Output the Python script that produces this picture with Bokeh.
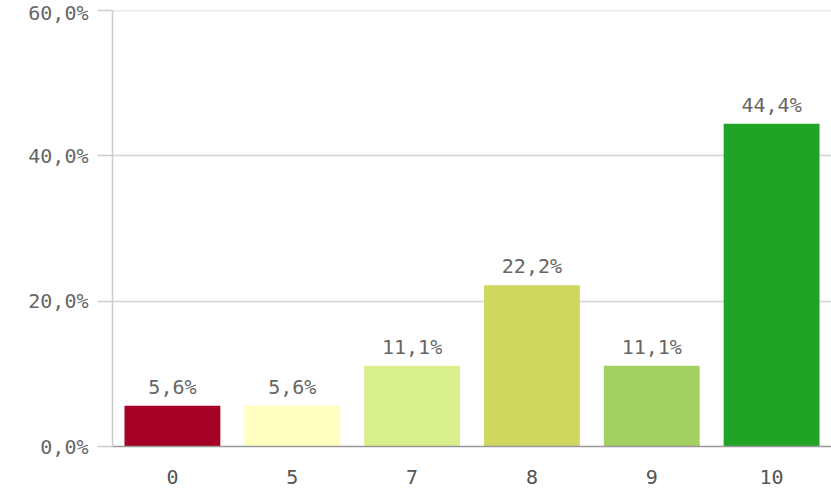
from bokeh.plotting import figure
from bokeh.models import ColumnDataSource, FixedTicker, CustomJSTickFormatter, Range1d, Span
from bokeh.core.properties import value
from bokeh.embed import file_html
from bokeh.resources import INLINE

categories = ["0", "5", "7", "8", "9", "10"]
percents = [5.6, 5.6, 11.1, 22.2, 11.1, 44.4]
colors = ["#a50026", "#ffffbf", "#d9ef8b", "#cfd75e", "#a4cf62", "#20a425"]
y_ticks = [0, 20, 40, 60]

FONT = "DejaVu Sans Mono"
TXT = "#666666"
GRID = "#d4d4d4"

labels = [f"{v:.1f}".replace(".", ",") + "%" for v in percents]
src = ColumnDataSource(dict(cat=categories, val=percents, color=colors, label=labels))

p = figure(x_range=categories, y_range=Range1d(0, 60), width=831, height=491,
           output_backend="svg", toolbar_location=None,
           min_border_left=112, min_border_right=0, min_border_top=10, min_border_bottom=45)
p.outline_line_color = None
p.background_fill_color = "white"

p.vbar(x="cat", top="val", width=0.8, fill_color="color", line_color=None, source=src)
p.text(x="cat", y="val", text="label", source=src, text_align="center", text_baseline="bottom",
       y_offset=-7, text_font=value(FONT), text_font_size="20px", text_color=TXT)

p.xgrid.grid_line_color = None
p.ygrid.grid_line_color = GRID
p.ygrid.grid_line_width = 1.5
p.ygrid.ticker = FixedTicker(ticks=y_ticks)
p.add_layout(Span(location=y_ticks[-1], dimension="width", line_color=GRID, line_width=1.5))

ya = p.yaxis[0]
ya.ticker = FixedTicker(ticks=y_ticks)
ya.formatter = CustomJSTickFormatter(
    code="return tick.toFixed(1).replace('.', ',') + '%';")
ya.axis_line_color = "#cccccc"
ya.axis_line_width = 1.5
ya.major_tick_line_color = "#cccccc"
ya.major_tick_line_width = 1.5
ya.major_tick_out = 15
ya.major_tick_in = 0
ya.minor_tick_line_color = None
ya.major_label_standoff = 9
ya.major_label_text_font = FONT
ya.major_label_text_font_size = "20px"
ya.major_label_text_color = TXT

xa = p.xaxis[0]
xa.axis_line_color = "#999999"
xa.axis_line_width = 1.5
xa.major_tick_line_color = None
xa.minor_tick_line_color = None
xa.major_label_standoff = 17
xa.major_label_text_font = FONT
xa.major_label_text_font_size = "20px"
xa.major_label_text_color = "#555555"

open("out.html", "w").write(file_html(p, INLINE))
